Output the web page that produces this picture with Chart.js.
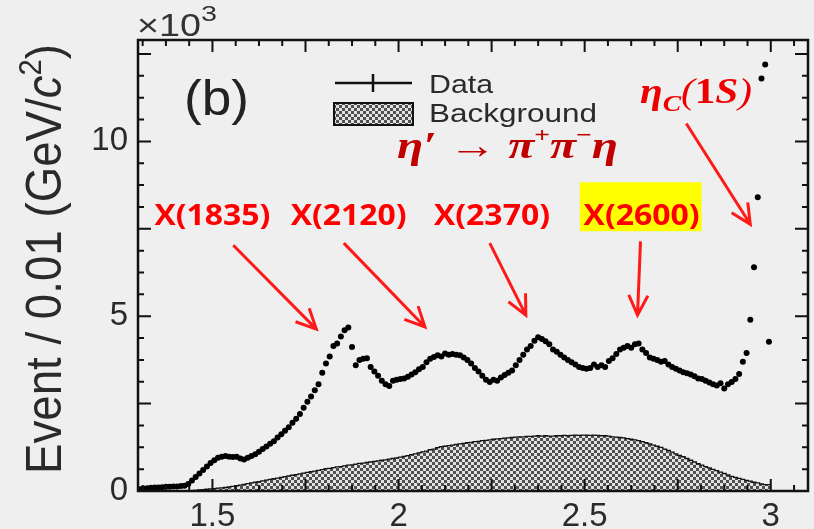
<!DOCTYPE html>
<html>
<head>
<meta charset="utf-8">
<script src="https://cdn.jsdelivr.net/npm/chart.js@4"></script>
<style>
  body { margin: 0; background: #efefef; }
  #wrap { width: 814px; height: 529px; }
</style>
</head>
<body>
<div id="wrap"><canvas id="myChart"></canvas></div>
<script>
// bins of 0.01 GeV/c^2 starting at 1.30, values in units of 10^3 events
const binStart = 1.30;
const binWidth = 0.01;

const dataCounts = [
  0.05, 0.07, 0.08, 0.09, 0.10, 0.10, 0.11, 0.12, 0.12, 0.13,
  0.13, 0.14, 0.15, 0.20, 0.30, 0.40, 0.50, 0.60, 0.70, 0.80,
  0.88, 0.95, 0.98, 1.00, 0.98, 0.97, 0.98, 0.93, 0.90, 0.95,
  1.00, 1.05, 1.12, 1.20, 1.27, 1.35, 1.42, 1.53, 1.62, 1.72,
  1.82, 1.95, 2.07, 2.20, 2.38, 2.55, 2.70, 2.88, 3.05, 3.38,
  3.65, 3.85, 4.15, 4.22, 4.42, 4.60, 4.68, 4.12, 3.60, 3.75,
  3.78, 3.80, 3.55, 3.42, 3.30, 3.15, 3.05, 3.00, 3.15, 3.18,
  3.20, 3.22, 3.27, 3.33, 3.40, 3.48, 3.55, 3.68, 3.78, 3.83,
  3.88, 3.85, 3.93, 3.90, 3.92, 3.90, 3.88, 3.82, 3.75, 3.65,
  3.52, 3.42, 3.30, 3.18, 3.12, 3.18, 3.15, 3.25, 3.32, 3.38,
  3.45, 3.60, 3.75, 3.90, 4.05, 4.15, 4.30, 4.40, 4.35, 4.28,
  4.20, 4.05, 3.98, 3.90, 3.82, 3.75, 3.68, 3.62, 3.55, 3.52,
  3.50, 3.52, 3.62, 3.55, 3.60, 3.55, 3.72, 3.80, 3.92, 4.05,
  4.10, 4.15, 4.10, 4.20, 4.22, 4.05, 3.95, 3.82, 3.78, 3.75,
  3.70, 3.72, 3.62, 3.55, 3.50, 3.45, 3.40, 3.37, 3.33, 3.28,
  3.22, 3.20, 3.15, 3.10, 3.05, 3.02, 3.08, 2.93, 3.05, 3.12,
  3.20, 3.35, 3.70, 3.95, 4.90, 6.40, 8.40, 11.80, 12.20, 4.27
];

const bkgCounts = [
  0, 0, 0, 0, 0, 0, 0, 0, 0, 0,
  0, 0, 0, 0, 0, 0.01, 0.02, 0.03, 0.04, 0.05,
  0.06, 0.07, 0.08, 0.09, 0.10, 0.12, 0.13, 0.15, 0.17, 0.19,
  0.21, 0.23, 0.25, 0.27, 0.29, 0.31, 0.33, 0.35, 0.37, 0.39,
  0.41, 0.43, 0.45, 0.47, 0.49, 0.51, 0.53, 0.55, 0.57, 0.59,
  0.61, 0.64, 0.65, 0.67, 0.69, 0.70, 0.72, 0.74, 0.75, 0.77,
  0.79, 0.80, 0.82, 0.83, 0.85, 0.86, 0.88, 0.89, 0.91, 0.93,
  0.95, 0.97, 0.99, 1.01, 1.04, 1.06, 1.09, 1.12, 1.14, 1.18,
  1.20, 1.24, 1.27, 1.28, 1.30, 1.31, 1.33, 1.35, 1.36, 1.38,
  1.39, 1.41, 1.42, 1.44, 1.45, 1.46, 1.48, 1.49, 1.50, 1.51,
  1.52, 1.53, 1.54, 1.55, 1.55, 1.56, 1.56, 1.57, 1.58, 1.57,
  1.58, 1.57, 1.57, 1.58, 1.58, 1.59, 1.58, 1.59, 1.60, 1.59,
  1.60, 1.60, 1.59, 1.60, 1.59, 1.58, 1.58, 1.57, 1.55, 1.54,
  1.53, 1.52, 1.50, 1.48, 1.46, 1.44, 1.41, 1.38, 1.35, 1.31,
  1.28, 1.25, 1.20, 1.16, 1.11, 1.06, 1.02, 0.98, 0.93, 0.88,
  0.83, 0.78, 0.74, 0.70, 0.66, 0.62, 0.58, 0.54, 0.50, 0.46,
  0.42, 0.39, 0.36, 0.33, 0.30, 0.28, 0.25, 0.23, 0.20, 0.18
];

const xTicks = [1.5, 2, 2.5, 3];
const yTicks = [0, 5, 10];

const resonances = ["X(1835)", "X(2120)", "X(2370)", "X(2600)"];
const resonanceLabelX = [1.5, 1.866, 2.251, 2.653];
// arrows in axis units: [x1, y1, x2, y2]
const arrows = [
  [1.556, 7.03, 1.779, 4.63],
  [1.853, 7.09, 2.071, 4.69],
  [2.245, 7.09, 2.342, 5.03],
  [2.650, 7.14, 2.642, 5.03],
  [2.773, 10.51, 2.945, 7.63]
];

const ctx = document.querySelector("#myChart").getContext("2d");

function makeTile() {
  const t = document.createElement("canvas");
  t.width = 6; t.height = 6;
  const g = t.getContext("2d");
  g.fillStyle = "#e2e2e2"; g.fillRect(0, 0, 6, 6);
  g.fillStyle = "#505050"; g.fillRect(0, 0, 3, 3); g.fillRect(3, 3, 3, 3);
  return t;
}
const hatch = ctx.createPattern(makeTile(), "repeat");

const dataPoints = dataCounts.map((v, i) => ({ x: binStart + binWidth * (i + 0.5), y: v }));
const bkgPoints = bkgCounts.map((v, i) => ({ x: binStart + binWidth * i, y: v }));
bkgPoints.push({ x: binStart + binWidth * bkgCounts.length, y: bkgCounts[bkgCounts.length - 1] });

// draws a row of text pieces [text, font, dy], squeezed or stretched to width w
function drawPieces(c, pieces, x, y, w) {
  let nat = 0;
  const widths = pieces.map((p) => { c.font = p[1]; const m = c.measureText(p[0]).width; nat += m; return m; });
  c.save();
  c.translate(x, y);
  c.scale(w / nat, 1);
  c.textAlign = "left";
  let cx = 0;
  pieces.forEach((p, i) => { c.font = p[1]; c.fillText(p[0], cx, p[2]); cx += widths[i]; });
  c.restore();
}

function arrow(c, x1, y1, x2, y2) {
  const a = Math.atan2(y2 - y1, x2 - x1), h = 22, s = 0.45;
  c.beginPath();
  c.moveTo(x1, y1); c.lineTo(x2, y2);
  c.moveTo(x2 - h * Math.cos(a - s), y2 - h * Math.sin(a - s));
  c.lineTo(x2, y2);
  c.lineTo(x2 - h * Math.cos(a + s), y2 - h * Math.sin(a + s));
  c.stroke();
}

function drawFrame(chart) {
  const c = chart.ctx, a = chart.chartArea, sx = chart.scales.x, sy = chart.scales.y;
  c.save();
  c.strokeStyle = "#111";
  c.lineWidth = 2.5;
  c.strokeRect(a.left, a.top, a.right - a.left, a.bottom - a.top);
  c.lineWidth = 2;
  c.beginPath();
  for (let k = 1; 1.25 + k * 0.0625 < 3.1; k++) {
    const v = 1.25 + k * 0.0625;
    if (v <= 1.3) continue;
    const px = sx.getPixelForValue(v);
    const len = k % 4 === 0 ? 12 : 6;
    c.moveTo(px, a.bottom); c.lineTo(px, a.bottom - len);
    c.moveTo(px, a.top); c.lineTo(px, a.top + len);
  }
  for (let k = 1; k * 0.625 < 12.9; k++) {
    const py = sy.getPixelForValue(k * 0.625);
    const len = k % 4 === 0 ? 13 : 6;
    c.moveTo(a.left, py); c.lineTo(a.left + len, py);
    c.moveTo(a.right, py); c.lineTo(a.right - len, py);
  }
  c.stroke();
  c.restore();
}

function drawNotes(chart) {
  const c = chart.ctx, sx = chart.scales.x, sy = chart.scales.y;
  c.save();
  c.textBaseline = "alphabetic";

  // y axis title
  c.save();
  c.translate(61, 259);
  c.rotate(-Math.PI / 2);
  c.fillStyle = "#2a2a2a";
  drawPieces(c, [
    ["Event / 0.01 (GeV/", "50px 'Liberation Sans'", 0],
    ["c", "italic 50px 'Liberation Sans'", 0],
    ["2", "32px 'Liberation Sans'", -20],
    [")", "50px 'Liberation Sans'", 0]
  ], -215, 0, 430);
  c.restore();

  // x10^3
  c.fillStyle = "#333";
  drawPieces(c, [["\u00d710", "32px 'Liberation Sans'", 0]], 137, 36, 64);
  drawPieces(c, [["3", "22px 'Liberation Sans'", 0]], 201, 21, 16);

  // (b)
  c.fillStyle = "#222";
  drawPieces(c, [["(b)", "50px 'Liberation Sans'", 0]], 184, 115, 65);

  // legend
  c.strokeStyle = "#111";
  c.lineWidth = 2.5;
  c.beginPath();
  c.moveTo(335, 83); c.lineTo(412, 83);
  c.moveTo(373, 74); c.lineTo(373, 92);
  c.stroke();
  c.fillStyle = hatch;
  c.fillRect(334, 103, 79, 22);
  c.lineWidth = 2;
  c.strokeRect(334, 103, 79, 22);
  c.fillStyle = "#2a2a2a";
  drawPieces(c, [["Data", "26px 'Liberation Sans'", 0]], 429, 93, 64);
  drawPieces(c, [["Background", "26px 'Liberation Sans'", 0]], 429, 122, 168);

  // decay formula
  c.fillStyle = "#c00000";
  drawPieces(c, [
    ["\u03b7\u2032 \u2192 \u03c0", "bold italic 38px 'Liberation Serif'", 0],
    ["+", "bold 22px 'Liberation Serif'", -16],
    ["\u03c0", "bold italic 38px 'Liberation Serif'", 0],
    ["\u2212", "bold 22px 'Liberation Serif'", -16],
    ["\u03b7", "bold italic 38px 'Liberation Serif'", 0]
  ], 397, 158, 221);

  // eta_c(1S)
  c.fillStyle = "#ee0000";
  drawPieces(c, [
    ["\u03b7", "bold italic 36px 'Liberation Serif'", 0],
    ["C", "bold italic 24px 'Liberation Serif'", 8],
    ["(", "italic 36px 'Liberation Serif'", 0],
    ["1", "bold 36px 'Liberation Serif'", 0],
    ["S", "bold italic 36px 'Liberation Serif'", 0],
    [")", "italic 36px 'Liberation Serif'", 0]
  ], 640, 103, 112);

  // highlight box behind X(2600)
  const bx1 = sx.getPixelForValue(2.487), bx2 = sx.getPixelForValue(2.814);
  const by1 = sy.getPixelForValue(8.83), by2 = sy.getPixelForValue(7.43);
  c.fillStyle = "#ffff00";
  c.fillRect(bx1, by1, bx2 - bx1, by2 - by1);

  // resonance labels
  c.fillStyle = "#ff0000";
  resonances.forEach((name, i) => {
    const cx = sx.getPixelForValue(resonanceLabelX[i]);
    const cy = sy.getPixelForValue(7.6);
    drawPieces(c, [[name, "bold 29px 'Open Sans'", 0]], cx - 58, cy, 116);
  });

  // arrows
  c.strokeStyle = "#ff1a1a";
  c.lineWidth = 3;
  c.lineJoin = "miter";
  arrows.forEach((ar) => {
    arrow(c, sx.getPixelForValue(ar[0]), sy.getPixelForValue(ar[1]),
      sx.getPixelForValue(ar[2]), sy.getPixelForValue(ar[3]));
  });
  c.restore();
}

const decor = {
  id: "decor",
  beforeDraw(chart) {
    const c = chart.ctx;
    c.save();
    c.fillStyle = "#efefef";
    c.fillRect(0, 0, chart.width, chart.height);
    c.restore();
  },
  afterDatasetsDraw(chart) { drawFrame(chart); },
  afterDraw(chart) { drawNotes(chart); }
};

const tickFont = { family: "'Liberation Sans', Arial, sans-serif", size: 33 };

new Chart(ctx, {
  type: "line",
  data: {
    datasets: [
      {
        label: "Data",
        data: dataPoints,
        showLine: false,
        pointRadius: 3,
        pointBackgroundColor: "#000",
        pointBorderWidth: 0
      },
      {
        label: "Background",
        data: bkgPoints,
        stepped: "after",
        fill: "origin",
        backgroundColor: hatch,
        borderColor: "#111",
        borderWidth: 1.3,
        pointRadius: 0
      }
    ]
  },
  options: {
    responsive: true,
    maintainAspectRatio: false,
    animation: false,
    layout: { padding: { top: 40, right: 6, left: 0, bottom: 0 } },
    plugins: { legend: { display: false }, tooltip: { enabled: false } },
    scales: {
      x: {
        type: "linear",
        min: 1.3,
        max: 3.1,
        grid: { display: false, drawTicks: false },
        border: { display: false },
        afterBuildTicks: (s) => { s.ticks = xTicks.map((v) => ({ value: v })); },
        afterFit: (s) => { s.height = 38; },
        ticks: {
          font: tickFont, color: "#2a2a2a", padding: 6, maxRotation: 0, autoSkip: false,
          callback: (v) => String(v)
        }
      },
      y: {
        min: 0,
        max: 12.9,
        grid: { display: false, drawTicks: false },
        border: { display: false },
        afterBuildTicks: (s) => { s.ticks = yTicks.map((v) => ({ value: v })); },
        afterFit: (s) => { s.width = 138; },
        ticks: { font: tickFont, color: "#2a2a2a", padding: 10, callback: (v) => String(v) }
      }
    }
  },
  plugins: [decor]
});
</script>
</body>
</html>
